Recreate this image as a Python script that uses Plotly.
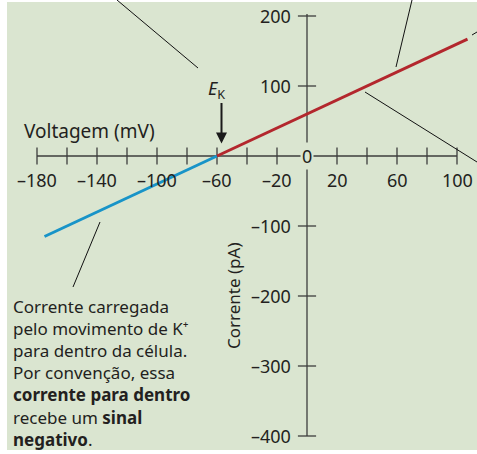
import plotly.graph_objects as go

# corrente de K+ em funcao da voltagem
voltagem_azul = [-175, -60]
corrente_azul = [-115, 0]
voltagem_verm = [-60, 107]
corrente_verm = [0, 167]

x_ticks = [-180, -160, -140, -120, -100, -80, -60, -40, -20, 0, 20, 40, 60, 80, 100]
x_labels = [-180, -140, -100, -60, -20, 20, 60, 100]
y_ticks = [200, 100, -100, -200, -300, -400]
y_labels = [200, 100, -100, -200, -300, -400]

E_K = -60

texto = [
    "Corrente carregada",
    "pelo movimento de K⁺",
    "para dentro da célula.",
    "Por convenção, essa",
    "<b>corrente para dentro</b>",
    "recebe um <b>sinal</b>",
    "<b>negativo</b>.",
]

W, H = 477, 454
ML, MT, MB = 7, 2, 4
FONT = "Noto Sans"
TXT = "#231f20"
AXC = "#3d3d3d"
BG = "#dae5d0"


def px(x):
    return (x - ML) / (W - ML)


def py(y):
    return (H - MB - y) / (H - MT - MB)


def lbl(v):
    return str(v).replace("-", "–")


fig = go.Figure()

# eixos
fig.add_trace(go.Scatter(x=[x_ticks[0], x_ticks[-1]], y=[0, 0], mode="lines",
                         line=dict(color=AXC, width=1.3), hoverinfo="skip"))
fig.add_trace(go.Scatter(x=[0, 0], y=[203, y_ticks[-1]], mode="lines",
                         line=dict(color=AXC, width=1.3), hoverinfo="skip"))
fig.add_trace(go.Scatter(x=x_ticks, y=[0] * len(x_ticks), mode="markers",
                         marker=dict(symbol="line-ns-open", size=12, color=AXC,
                                     line=dict(color=AXC, width=1.3)),
                         hoverinfo="skip"))
fig.add_trace(go.Scatter(x=[0] * len(y_ticks), y=y_ticks, mode="markers",
                         marker=dict(symbol="line-ew-open", size=13, color=AXC,
                                     line=dict(color=AXC, width=1.3)),
                         hoverinfo="skip"))

# curvas
fig.add_trace(go.Scatter(x=voltagem_azul, y=corrente_azul, mode="lines",
                         line=dict(color="#1894c8", width=3)))
fig.add_trace(go.Scatter(x=voltagem_verm, y=corrente_verm, mode="lines",
                         line=dict(color="#b3272d", width=3)))

ann = []
for v in x_labels:
    ann.append(dict(x=v, y=0, text=lbl(v), showarrow=False, yshift=-24,
                    xanchor="center", yanchor="middle",
                    font=dict(size=18, color=TXT, family=FONT)))
for v in y_labels:
    ann.append(dict(x=0, y=v, text=lbl(v), showarrow=False, xshift=-14,
                    xanchor="right", yanchor="middle",
                    font=dict(size=18, color=TXT, family=FONT)))
ann.append(dict(x=0, y=0, text="0", showarrow=False, bgcolor=BG, borderpad=1,
                xanchor="center", yanchor="middle",
                font=dict(size=18, color=TXT, family=FONT)))

# seta E_K
ann.append(dict(x=E_K + 3, y=18, text="", showarrow=True, ax=0, ay=-42,
                arrowhead=2, arrowsize=1.1, arrowwidth=2, arrowcolor="#1a1a1a"))
ann.append(dict(x=px(216), y=py(90), xref="paper", yref="paper",
                xanchor="center", yanchor="middle",
                text="<i>E</i><sub>K</sub>", showarrow=False,
                font=dict(size=18, color=TXT, family=FONT)))

ann.append(dict(x=px(89), y=py(131), xref="paper", yref="paper",
                xanchor="center", yanchor="middle",
                text="Voltagem (mV)", showarrow=False,
                font=dict(size=19, color=TXT, family=FONT)))
ann.append(dict(x=px(233), y=py(296), xref="paper", yref="paper",
                xanchor="center", yanchor="middle",
                text="Corrente (pA)", showarrow=False, textangle=-90,
                font=dict(size=17, color=TXT, family=FONT)))

ann.append(dict(x=px(11), y=py(293), xref="paper", yref="paper",
                text="<br>".join(texto), showarrow=False, align="left",
                xanchor="left", yanchor="top",
                font=dict(size=17, color=TXT, family=FONT)))

# linhas de chamada
chamadas = [((117, 0), (198, 68)), ((412, 0), (396, 67)), ((365, 92), (477, 162)),
            ((472, 35), (477, 32)), ((100, 222), (73, 287))]
shapes = []
for (x0, y0), (x1, y1) in chamadas:
    shapes.append(dict(type="line", xref="paper", yref="paper",
                       x0=px(x0), y0=py(y0), x1=px(x1), y1=py(y1),
                       line=dict(color="#111111", width=1)))

fig.update_layout(
    width=W, height=H,
    margin=dict(l=ML, r=0, t=MT, b=MB, autoexpand=False),
    paper_bgcolor="white", plot_bgcolor=BG,
    showlegend=False,
    xaxis=dict(range=[-200, 113.333], visible=False, fixedrange=True),
    yaxis=dict(range=[-420, 220], visible=False, fixedrange=True),
    annotations=ann, shapes=shapes,
)

fig.write_html("out.html", config={"displayModeBar": False},
               post_script="document.body.style.margin='0';")
